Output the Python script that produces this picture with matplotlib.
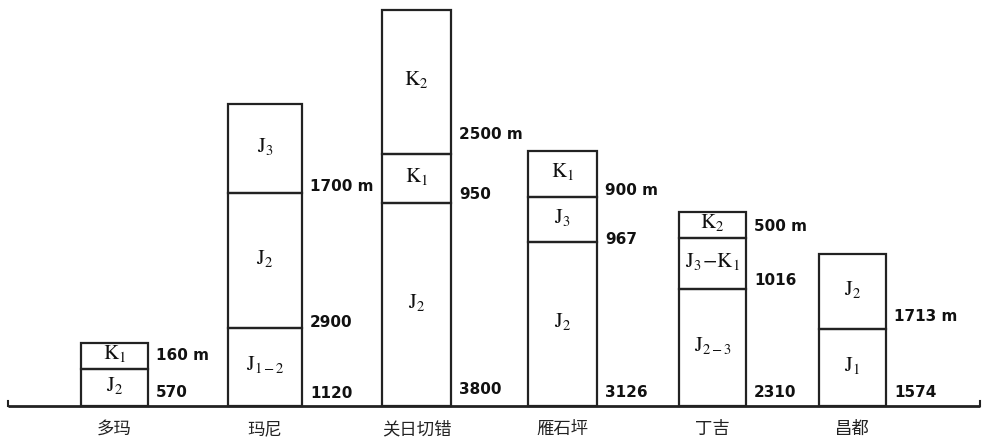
import matplotlib.pyplot as plt

plt.rcParams['font.family'] = ['Noto Sans CJK SC', 'DejaVu Sans']
plt.rcParams['mathtext.fontset'] = 'stix'

# sections (schematic column heights, bottom -> top)
sites = ['多玛', '玛尼', '关日切错', '雁石坪', '丁吉', '昌都']
layers = [
    ['J_2', 'K_1'],
    ['J_{1-2}', 'J_2', 'J_3'],
    ['J_2', 'K_1', 'K_2'],
    ['J_2', 'J_3', 'K_1'],
    ['J_{2-3}', 'J_3\\!-\\!K_1', 'K_2'],
    ['J_1', 'J_2'],
]
heights = [
    [37, 26],
    [78, 135, 89],
    [203, 49, 144],
    [164, 45, 46],
    [117, 51, 26],
    [77, 75],
]
thickness = [
    ['570', '160 m'],
    ['1120', '2900', '1700 m'],
    ['3800', '950', '2500 m'],
    ['3126', '967', '900 m'],
    ['2310', '1016', '500 m'],
    ['1574', '1713 m'],
]

# layout
xc = [114.5, 265, 416.5, 562.5, 712.5, 852.5]
wd = [67, 74, 69, 69, 67, 67]
lab_dy = [
    [14, 14],
    [13, 6, 7],
    [17, 9, 20],
    [14, 3, 7],
    [14, 9, 12],
    [14, 13],
]

fig = plt.figure(figsize=(9.82, 4.4), dpi=100)
ax = fig.add_axes([0, 0, 1, 1])
ax.set_xlim(0, 982)
ax.set_ylim(-34, 406)
ax.axis('off')

for i in range(len(sites)):
    bottom = 0
    for j in range(len(heights[i])):
        h = heights[i][j]
        ax.bar(xc[i], h, bottom=bottom, width=wd[i], fill=False,
               edgecolor='#222222', linewidth=1.6)
        ax.text(xc[i], bottom + h / 2 + 3, '$\\mathrm{' + layers[i][j] + '}$',
                ha='center', va='center', fontsize=15, color='#111111')
        ax.text(xc[i] + wd[i] / 2 + 8, bottom + lab_dy[i][j], thickness[i][j],
                ha='left', va='center', fontsize=11, fontweight='bold',
                family=['DejaVu Sans'], color='#111111')
        bottom += h
    ax.text(xc[i], -23, sites[i], ha='center', va='center', fontsize=12.5,
            fontweight='light', color='#222222')

# ground line with end ticks
ax.plot([8, 980], [0, 0], color='#222222', lw=2, solid_capstyle='butt')
ax.plot([8, 8], [0, 5], color='#222222', lw=1.5)
ax.plot([980, 980], [0, 5], color='#222222', lw=1.5)

fig.savefig('out.png', dpi=100)
